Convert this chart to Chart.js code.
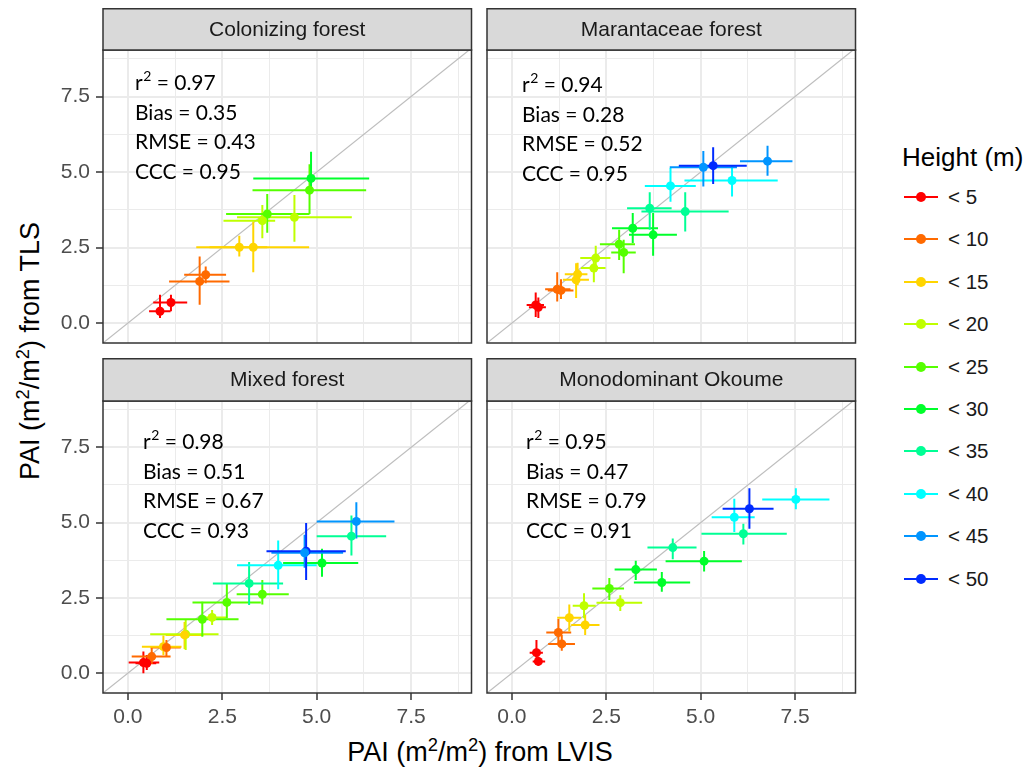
<!DOCTYPE html>
<html>
<head>
<meta charset="utf-8">
<title>PAI LVIS vs TLS</title>
<script src="https://cdn.jsdelivr.net/npm/chart.js@4.4.1/dist/chart.umd.min.js"></script>
<style>
  body { margin: 0; background: #fff; width: 1031px; height: 772px; position: relative; overflow: hidden;
         font-family: "Liberation Sans", Arial, sans-serif; color: #000; }
  canvas { position: absolute; }
  .axis-title { position: absolute; font-size: 27px; white-space: nowrap; line-height: 1; }
  .axis-title sup { font-size: 0.68em; vertical-align: 0; position: relative; top: -0.55em; }
  #x-title { left: 480px; top: 752px; transform: translate(-50%, -50%); }
  #y-title { left: 30px; top: 351px; transform: translate(-50%, -50%) rotate(-90deg); }
  #legend { position: absolute; left: 0; top: 0; }
  .leg-title { position: absolute; left: 902px; top: 157px; transform: translateY(-50%); font-size: 26px; white-space: nowrap; }
  .leg-item { position: absolute; left: 904px; height: 20px; width: 120px; }
  .leg-line { position: absolute; left: 0; top: 9px; width: 34px; height: 2px; }
  .leg-dot { position: absolute; left: 12px; top: 5px; width: 10px; height: 10px; border-radius: 50%; }
  .leg-label { position: absolute; left: 44px; top: 50%; transform: translateY(-50%); font-size: 20.5px; color: #1A1A1A; white-space: nowrap; }
</style>
</head>
<body>
<div id="x-title" class="axis-title">PAI (m<sup>2</sup>/m<sup>2</sup>) from LVIS</div>
<div id="y-title" class="axis-title">PAI (m<sup>2</sup>/m<sup>2</sup>) from TLS</div>
<div id="legend"></div>
<script>
// height classes and their colours
const heightClasses = ['< 5', '< 10', '< 15', '< 20', '< 25', '< 30', '< 35', '< 40', '< 45', '< 50'];
const classColors = ['#FF0000', '#FF6A00', '#FFD500', '#BFFF00', '#55FF00', '#00FF2B', '#00FF95', '#00FFFF', '#0095FF', '#002BFF'];

const facetTitles = ['Colonizing forest', 'Marantaceae forest', 'Mixed forest', 'Monodominant Okoume'];
const r2Values = [0.97, 0.94, 0.98, 0.95];
const biasValues = [0.35, 0.28, 0.51, 0.47];
const rmseValues = [0.43, 0.52, 0.67, 0.79];
const cccValues = [0.95, 0.95, 0.93, 0.91];

const majorTicks = [0, 2.5, 5, 7.5];
const minorTicks = [1.25, 3.75, 6.25, 8.75];
const xRange = [-0.66, 9.10];
const yRange = [-0.66, 9.04];

// rows: [height class, LVIS PAI, TLS PAI, LVIS low, LVIS high, TLS low, TLS high]
const colonizing = [
  [0, 0.85, 0.39, 0.56, 1.13, 0.17, 0.94],
  [0, 1.14, 0.68, 0.67, 1.57, 0.39, 0.94],
  [1, 1.90, 1.38, 1.09, 2.69, 0.61, 2.20],
  [1, 2.06, 1.60, 1.49, 2.60, 1.32, 1.87],
  [2, 2.95, 2.51, 1.81, 3.69, 2.20, 2.89],
  [2, 3.32, 2.51, 2.16, 4.80, 1.68, 3.36],
  [3, 3.56, 3.39, 2.53, 3.90, 2.81, 3.91],
  [3, 4.41, 3.50, 2.89, 5.93, 2.69, 4.24],
  [4, 3.69, 3.61, 2.60, 4.81, 2.99, 4.27],
  [4, 4.81, 4.40, 3.30, 6.31, 3.61, 5.26],
  [5, 4.85, 4.79, 3.32, 6.39, 4.40, 5.67]
];
const marantaceae = [
  [0, 0.63, 0.60, 0.39, 0.85, 0.20, 1.01],
  [0, 0.70, 0.52, 0.45, 0.90, 0.17, 0.85],
  [1, 1.20, 1.12, 0.88, 1.55, 0.71, 1.68],
  [1, 1.30, 1.08, 0.95, 1.63, 0.80, 1.45],
  [2, 1.70, 1.43, 1.35, 2.04, 0.83, 1.98],
  [2, 1.74, 1.62, 1.40, 2.00, 1.25, 2.00],
  [3, 2.17, 1.82, 1.83, 2.48, 1.35, 2.25],
  [3, 2.22, 2.15, 1.81, 2.61, 1.76, 2.56],
  [4, 2.84, 2.61, 2.33, 3.26, 2.09, 3.09],
  [4, 2.96, 2.34, 2.63, 3.28, 1.65, 2.76],
  [5, 3.20, 3.14, 2.65, 3.87, 2.65, 3.64],
  [5, 3.74, 2.92, 3.10, 4.37, 2.23, 3.64],
  [6, 3.65, 3.80, 3.05, 4.23, 3.09, 4.33],
  [6, 4.59, 3.69, 3.43, 5.74, 3.03, 4.33],
  [7, 4.20, 4.54, 3.52, 4.87, 4.02, 5.13],
  [7, 5.83, 4.72, 4.57, 7.04, 4.19, 5.21],
  [8, 5.07, 5.16, 4.18, 5.96, 4.52, 5.70],
  [9, 5.33, 5.21, 4.42, 6.22, 4.60, 5.82],
  [8, 6.77, 5.36, 6.04, 7.43, 4.88, 5.87]
];
const mixed = [
  [0, 0.41, 0.35, 0.02, 0.83, 0.00, 0.72],
  [0, 0.50, 0.33, 0.20, 0.75, 0.10, 0.60],
  [1, 0.63, 0.55, 0.10, 1.13, 0.30, 0.85],
  [1, 1.02, 0.85, 0.60, 1.40, 0.55, 1.10],
  [2, 0.94, 0.88, 0.37, 1.42, 0.60, 1.25],
  [2, 1.50, 1.27, 1.00, 2.00, 0.80, 1.70],
  [3, 1.53, 1.29, 0.59, 2.40, 0.77, 1.80],
  [3, 2.23, 1.85, 1.90, 2.60, 1.60, 2.10],
  [4, 1.97, 1.79, 1.02, 2.93, 1.21, 2.37],
  [4, 2.62, 2.35, 1.71, 3.52, 1.82, 2.98],
  [4, 3.56, 2.62, 2.88, 4.26, 2.28, 3.09],
  [6, 3.21, 2.98, 2.25, 4.11, 2.26, 3.69],
  [7, 3.98, 3.58, 2.89, 5.00, 2.79, 4.41],
  [8, 4.68, 4.00, 3.80, 5.70, 3.50, 4.60],
  [9, 4.72, 4.05, 3.67, 5.77, 3.09, 4.99],
  [5, 5.14, 3.66, 4.11, 6.10, 3.20, 4.13],
  [6, 5.92, 4.55, 5.00, 6.84, 3.91, 5.24],
  [8, 6.05, 5.04, 5.00, 7.06, 4.47, 5.68]
];
const okoume = [
  [0, 0.65, 0.68, 0.47, 0.82, 0.28, 1.10],
  [0, 0.70, 0.39, 0.55, 0.88, 0.25, 0.55],
  [1, 1.23, 1.35, 0.91, 1.57, 0.94, 1.80],
  [1, 1.32, 0.97, 0.96, 1.67, 0.74, 1.27],
  [2, 1.52, 1.84, 1.20, 1.83, 1.38, 2.28],
  [2, 1.94, 1.60, 1.57, 2.32, 1.27, 1.93],
  [3, 1.91, 2.24, 1.61, 2.22, 1.82, 2.65],
  [3, 2.87, 2.34, 2.24, 3.45, 2.06, 2.59],
  [4, 2.58, 2.81, 2.13, 2.97, 2.43, 3.16],
  [5, 3.28, 3.44, 2.72, 3.84, 3.09, 3.73],
  [5, 3.97, 3.01, 3.23, 4.72, 2.70, 3.36],
  [5, 5.09, 3.72, 4.07, 6.09, 3.38, 4.06],
  [6, 4.26, 4.17, 3.59, 4.89, 3.78, 4.47],
  [6, 6.13, 4.63, 5.02, 7.28, 4.27, 4.96],
  [7, 5.89, 5.18, 5.29, 6.43, 4.69, 5.79],
  [9, 6.29, 5.46, 5.58, 6.93, 4.80, 6.14],
  [7, 7.52, 5.77, 6.63, 8.41, 5.44, 6.14]
];
const panelRows = [colonizing, marantaceae, mixed, okoume];

// facet grid layout (pixels)
const PANEL_W = 371, AXIS_W = 45, AXIS_H = 35;
const panels = [
  { left: 103, top: 8,   strip: 42, height: 293, yTicks: true,  xTicks: false, textX: 32, textY: 33 },
  { left: 487, top: 8,   strip: 42, height: 293, yTicks: false, xTicks: false, textX: 35, textY: 35 },
  { left: 103, top: 358, strip: 43, height: 292, yTicks: true,  xTicks: true,  textX: 40, textY: 41 },
  { left: 487, top: 358, strip: 43, height: 292, yTicks: false, xTicks: true,  textX: 39, textY: 41 }
];

Chart.defaults.font.family = '"Liberation Sans", Arial, sans-serif';

const isMajor = v => majorTicks.includes(v);
const STAT_FONT = 'Lato, "Open Sans", sans-serif';

// strip, border, 1:1 line, error bars and fit statistics
const facetDecor = {
  id: 'facetDecor',
  beforeDatasetsDraw(chart) {
    const { ctx, chartArea: a, scales: { x, y } } = chart;
    ctx.save();
    ctx.beginPath();
    ctx.rect(a.left, a.top, a.width, a.height);
    ctx.clip();
    const lo = Math.min(x.min, y.min), hi = Math.max(x.max, y.max);
    ctx.strokeStyle = '#BEBEBE';
    ctx.lineWidth = 1.2;
    ctx.beginPath();
    ctx.moveTo(x.getPixelForValue(lo), y.getPixelForValue(lo));
    ctx.lineTo(x.getPixelForValue(hi), y.getPixelForValue(hi));
    ctx.stroke();

    ctx.lineWidth = 2;
    chart.data.datasets.forEach(ds => {
      ctx.strokeStyle = ds.backgroundColor;
      ds.data.forEach(pt => {
        const px = x.getPixelForValue(pt.x), py = y.getPixelForValue(pt.y);
        ctx.beginPath();
        ctx.moveTo(x.getPixelForValue(pt.xlo), py);
        ctx.lineTo(x.getPixelForValue(pt.xhi), py);
        ctx.moveTo(px, y.getPixelForValue(pt.ylo));
        ctx.lineTo(px, y.getPixelForValue(pt.yhi));
        ctx.stroke();
      });
    });
    ctx.restore();
  },
  afterDraw(chart, args, opts) {
    const { ctx, chartArea: a } = chart;
    const i = opts.index, p = panels[i];
    ctx.save();
    // panel border
    ctx.strokeStyle = '#333333';
    ctx.lineWidth = 1.5;
    ctx.strokeRect(a.left, a.top, a.width, a.height);
    // strip
    ctx.fillStyle = '#D9D9D9';
    ctx.fillRect(a.left, a.top - p.strip, a.width, p.strip);
    ctx.strokeRect(a.left, a.top - p.strip + 0.75, a.width, p.strip - 0.75);
    ctx.fillStyle = '#1A1A1A';
    ctx.font = '21px "Liberation Sans", Arial, sans-serif';
    ctx.textAlign = 'center';
    ctx.textBaseline = 'middle';
    ctx.fillText(facetTitles[i], (a.left + a.right) / 2, a.top - p.strip / 2 + 1);

    // fit statistics, r with a raised 2
    ctx.fillStyle = '#000';
    ctx.textAlign = 'left';
    const x0 = a.left + p.textX, y0 = a.top + p.textY;
    ctx.font = '21px ' + STAT_FONT;
    ctx.fillText('r', x0, y0);
    let cx = x0 + ctx.measureText('r').width + 0.5;
    ctx.font = '14px ' + STAT_FONT;
    ctx.fillText('2', cx, y0 - 7);
    cx += ctx.measureText('2').width;
    ctx.font = '21px ' + STAT_FONT;
    ctx.fillText(' = ' + r2Values[i].toFixed(2), cx, y0);
    const lines = [
      'Bias = ' + biasValues[i].toFixed(2),
      'RMSE = ' + rmseValues[i].toFixed(2),
      'CCC = ' + cccValues[i].toFixed(2)
    ];
    lines.forEach((t, k) => ctx.fillText(t, x0, y0 + (k + 1) * 29.8));
    ctx.restore();
  }
};

function axisOptions(range, showTicks, isX) {
  return {
    type: 'linear',
    min: range[0],
    max: range[1],
    afterBuildTicks: s => { s.ticks = majorTicks.concat(minorTicks).sort((a, b) => a - b).map(v => ({ value: v })); },
    afterFit: s => { if (isX) s.height = AXIS_H; else s.width = AXIS_W; },
    border: { display: false },
    grid: {
      color: '#EBEBEB',
      lineWidth: c => (c.tick && isMajor(c.tick.value)) ? 2 : 1,
      drawTicks: true,
      tickLength: 7,
      tickWidth: 1.5,
      tickColor: c => (showTicks && c.tick && isMajor(c.tick.value)) ? '#333333' : 'rgba(0,0,0,0)'
    },
    ticks: {
      display: showTicks,
      autoSkip: false,
      maxRotation: 0,
      padding: isX ? 5 : 6,
      color: '#4D4D4D',
      font: { size: 21 },
      callback: v => isMajor(v) ? v.toFixed(1) : ''
    }
  };
}

panels.forEach((p, i) => {
  const canvas = document.createElement('canvas');
  const w = AXIS_W + PANEL_W + 2, h = p.strip + p.height + AXIS_H;
  canvas.width = w;
  canvas.height = h;
  canvas.style.width = w + 'px';
  canvas.style.height = h + 'px';
  canvas.style.left = (p.left - AXIS_W) + 'px';
  canvas.style.top = p.top + 'px';
  document.body.appendChild(canvas);

  const rows = panelRows[i];
  const datasets = heightClasses.map((label, c) => ({
    label,
    data: rows.filter(r => r[0] === c).map(r => ({ x: r[1], y: r[2], xlo: r[3], xhi: r[4], ylo: r[5], yhi: r[6] })),
    backgroundColor: classColors[c],
    borderWidth: 0,
    pointRadius: 4.5
  })).filter(ds => ds.data.length);

  new Chart(canvas, {
    type: 'scatter',
    data: { datasets },
    options: {
      responsive: false,
      animation: false,
      devicePixelRatio: 1,
      layout: { padding: { top: p.strip, right: 2, left: 0, bottom: 0 } },
      plugins: {
        legend: { display: false },
        tooltip: { enabled: false },
        facetDecor: { index: i }
      },
      scales: {
        x: axisOptions(xRange, p.xTicks, true),
        y: axisOptions(yRange, p.yTicks, false)
      }
    },
    plugins: [facetDecor]
  });
});

// legend for height classes
const legend = document.getElementById('legend');
const title = document.createElement('div');
title.className = 'leg-title';
title.textContent = 'Height (m)';
legend.appendChild(title);
heightClasses.forEach((label, c) => {
  const item = document.createElement('div');
  item.className = 'leg-item';
  item.style.top = (197 + c * 42.4 - 10) + 'px';
  item.innerHTML = '<div class="leg-line" style="background:' + classColors[c] + '"></div>' +
    '<div class="leg-dot" style="background:' + classColors[c] + '"></div>' +
    '<div class="leg-label"></div>';
  item.querySelector('.leg-label').textContent = label;
  legend.appendChild(item);
});
</script>
</body>
</html>
